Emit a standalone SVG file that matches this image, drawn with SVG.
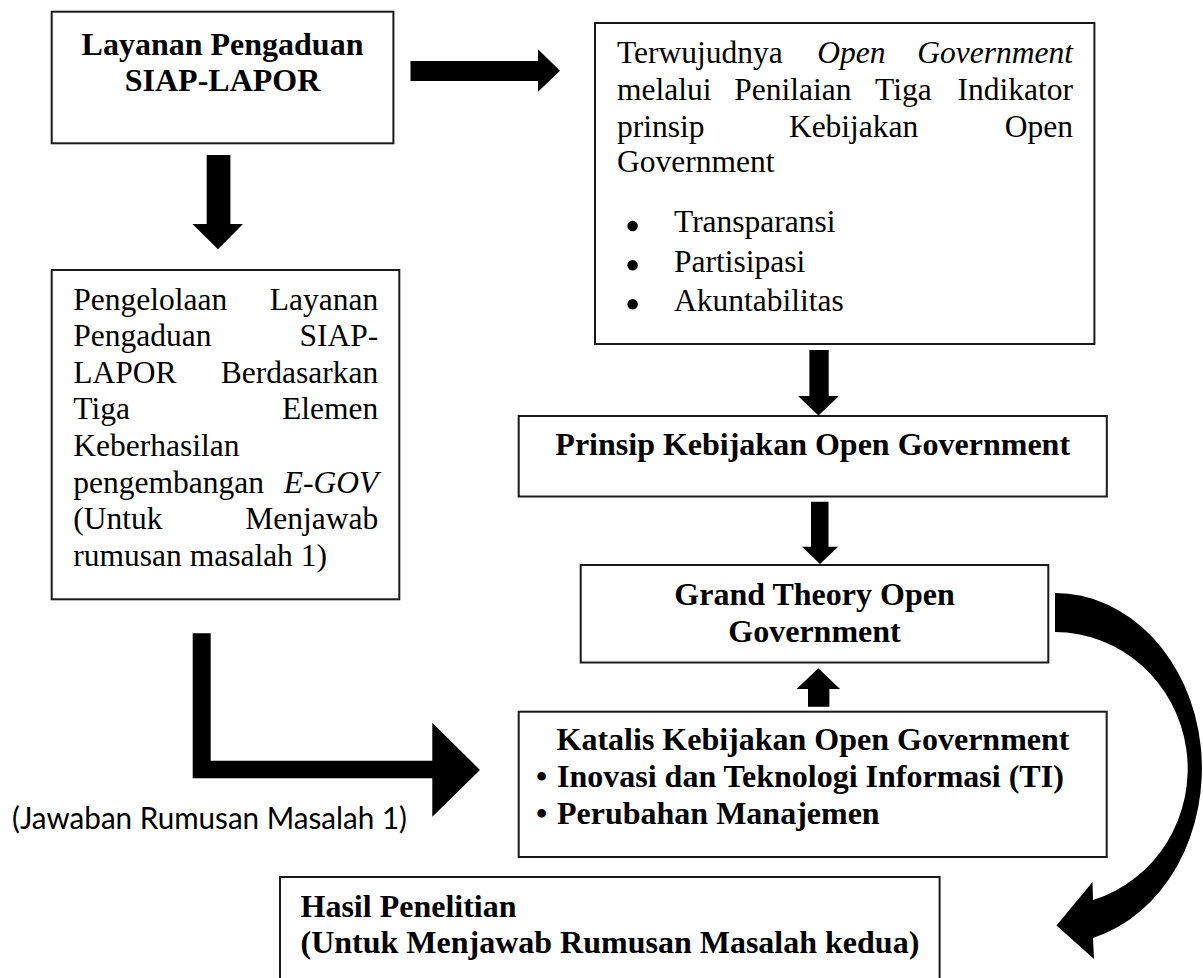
<svg xmlns="http://www.w3.org/2000/svg" width="1203" height="978" viewBox="0 0 1203 978">
<style>
.box{fill:#fff;stroke:#1a1a1a;stroke-width:2}
.t{font-family:"Liberation Serif","Times New Roman",serif;font-size:31.5px;fill:#000}
.b{font-family:"Liberation Serif","Times New Roman",serif;font-size:32px;font-weight:bold;fill:#000}
.i{font-style:italic}
.e{text-anchor:end}
.m{text-anchor:middle}
.arr{fill:#000;stroke:none}
.cal{font-family:Lato,"Open Sans",sans-serif;font-size:31px;fill:#000}
</style>
<rect width="1203" height="978" fill="#fff"/>
<g id="connectors">
  <path class="arr" d="M410.5,61 H538 V49.3 L560,70.7 L538,91.7 V81 H410.5 Z"/>
  <path class="arr" d="M206.7,155 H230.4 V224 H243 L218,249.3 L192.5,224 H206.7 Z"/>
  <path class="arr" d="M809.4,350 H828.7 V396 H839 L818.5,415.5 L798,396 H809.4 Z"/>
  <path class="arr" d="M811,501.7 H828.5 V546.7 H838.2 L820,564 L802,546.7 H811 Z"/>
  <path class="arr" d="M808,706.7 H829.4 V689 H840.1 L818.3,668.3 L796.6,689 H808 Z"/>
  <path class="arr" d="M192.7,633.3 H210.7 V760.7 H432.3 V722.7 L480,770 L432.3,816.7 V778.3 H192.7 Z"/>
  <path class="arr" d="M1055,593 A147,175.5 0 0 1 1093,938 L1094,959 L1056.5,925.5 L1092.5,882 L1093,900 A133,136.9 0 0 0 1055,632 Z"/>
</g>
<g id="node-layanan">
  <rect class="box" x="51.7" y="11.7" width="341.7" height="131.6"/>
  <text class="b m" x="222.5" y="55">Layanan Pengaduan</text>
  <text class="b m" x="222.5" y="91">SIAP-LAPOR</text>
</g>
<g id="node-terwujudnya">
  <rect class="box" x="595" y="23" width="499.4" height="321"/>
  <text class="t" x="617" y="63.3">Terwujudnya</text>
  <text class="t i" x="817.2" y="63.3">Open</text>
  <text class="t i e" x="1073" y="63.3">Government</text>
  <text class="t" x="617" y="100">melalui</text>
  <text class="t" x="734.3" y="100">Penilaian</text>
  <text class="t" x="875" y="100">Tiga</text>
  <text class="t e" x="1073" y="100">Indikator</text>
  <text class="t" x="617" y="136.7">prinsip</text>
  <text class="t" x="788.9" y="136.7">Kebijakan</text>
  <text class="t e" x="1073" y="136.7">Open</text>
  <text class="t" x="617" y="172">Government</text>
  <circle cx="632.6" cy="226" r="5.2"/>
  <circle cx="632.6" cy="265.3" r="5.2"/>
  <circle cx="632.6" cy="304.3" r="5.2"/>
  <text class="t" x="674" y="232.3">Transparansi</text>
  <text class="t" x="674" y="271.7">Partisipasi</text>
  <text class="t" x="674" y="310.7">Akuntabilitas</text>
</g>
<g id="node-pengelolaan">
  <rect class="box" x="51.7" y="270" width="347.6" height="329.3"/>
  <text class="t" x="73.3" y="309.5">Pengelolaan</text>
  <text class="t e" x="378.3" y="309.5">Layanan</text>
  <text class="t" x="73.3" y="346.1">Pengaduan</text>
  <text class="t e" x="378.3" y="346.1">SIAP-</text>
  <text class="t" x="73.3" y="382.7">LAPOR</text>
  <text class="t e" x="378.3" y="382.7">Berdasarkan</text>
  <text class="t" x="73.3" y="419.3">Tiga</text>
  <text class="t e" x="378.3" y="419.3">Elemen</text>
  <text class="t" x="73.3" y="455.9">Keberhasilan</text>
  <text class="t" x="73.3" y="492.5">pengembangan</text>
  <text class="t i e" x="378.3" y="492.5">E-GOV</text>
  <text class="t" x="73.3" y="529.1">(Untuk</text>
  <text class="t e" x="378.3" y="529.1">Menjawab</text>
  <text class="t" x="73.3" y="565.5">rumusan masalah 1)</text>
</g>
<g id="node-prinsip">
  <rect class="box" x="518.7" y="416" width="588.1" height="80.5"/>
  <text class="b m" x="812.7" y="455">Prinsip Kebijakan Open Government</text>
</g>
<g id="node-grand">
  <rect class="box" x="580.7" y="565" width="467.6" height="97.5"/>
  <text class="b m" x="814.5" y="605">Grand Theory Open</text>
  <text class="b m" x="814.5" y="641.7">Government</text>
</g>
<g id="node-katalis">
  <rect class="box" x="518.7" y="711.7" width="588" height="145.3"/>
  <text class="b m" x="813" y="750">Katalis Kebijakan Open Government</text>
  <text class="b" x="536" y="787">•</text>
  <text class="b" x="557" y="787">Inovasi dan Teknologi Informasi (TI)</text>
  <text class="b" x="536" y="824">•</text>
  <text class="b" x="557" y="824">Perubahan Manajemen</text>
</g>
<g id="node-hasil">
  <rect class="box" x="280" y="877" width="659.6" height="130"/>
  <text class="b" x="300.5" y="916.7">Hasil Penelitian</text>
  <text class="b" x="300.5" y="953.3">(Untuk Menjawab Rumusan Masalah kedua)</text>
</g>
<g id="label-jawaban">
  <text class="cal" x="12" y="829" textLength="395" lengthAdjust="spacingAndGlyphs">(Jawaban Rumusan Masalah 1)</text>
</g>
</svg>
